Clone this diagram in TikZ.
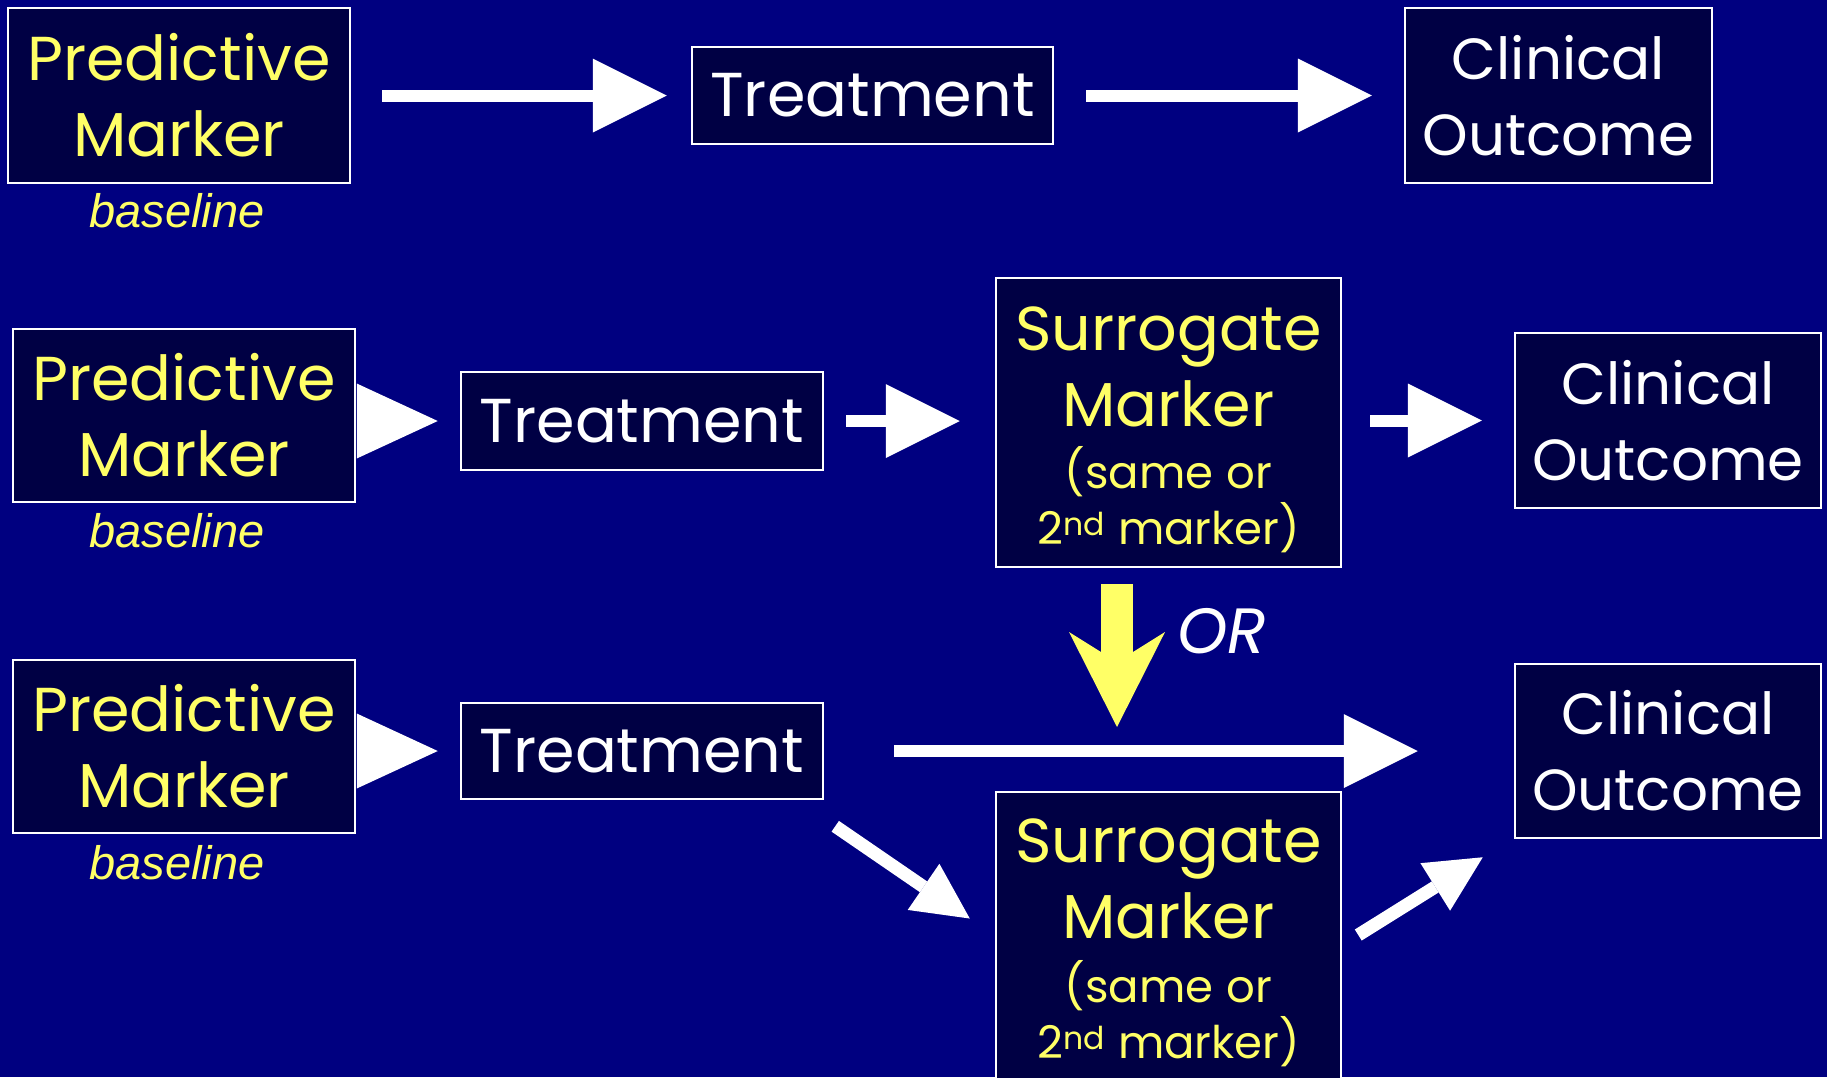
\documentclass[tikz,border=0pt]{standalone}
\usepackage{fontspec}
\setmainfont{Poppins}
\newfontfamily\arialfont{Liberation Sans}
\usetikzlibrary{arrows.meta,calc}
\definecolor{bgblue}{HTML}{000080}
\definecolor{boxblue}{HTML}{000044}
\definecolor{txtyellow}{HTML}{FFFF66}
\newcommand{\surrtext}[1]{\fontsize{62}{76}\selectfont Surrogate\\Marker\par\vspace{#1}\fontsize{45}{56}\selectfont (same\hspace{13pt}or\\2\textsuperscript{nd}\hspace{13pt}marker)\par}
\begin{document}
\begin{tikzpicture}[x=1pt,y=-1pt,
  box/.style={draw=white, line width=2.5pt, fill=boxblue, inner sep=0pt, align=center},
  ylw/.style={text=txtyellow},
  wht/.style={text=white},
  big/.style={font=\fontsize{62}{76}\selectfont},
  cobig/.style={font=\fontsize{58}{76}\selectfont},
  basetxt/.style={text=txtyellow, font=\arialfont\itshape\fontsize{47}{56}\selectfont},
  harrow/.style={draw=white, line width=12pt, -{Triangle[length=74pt,width=74pt,line width=0pt]}},
  sharrow/.style={draw=white, line width=12pt, -{Triangle[length=81pt,width=75pt,line width=0pt]}},
  darrow/.style={draw=white, line width=13pt, -{Triangle[length=56pt,width=56pt,line width=0pt]}},
  yarrow/.style={draw=txtyellow, line width=32pt, -{Stealth[length=95pt,width=96pt,inset=30pt,line width=0pt]}},
  surbox/.style={box, minimum width=345pt, minimum height=289pt},
  surtxt/.style={text=txtyellow, inner sep=0pt, align=center, text width=345pt},
]
\useasboundingbox (0,0) rectangle (1827,1077);
\clip (0,0) rectangle (1827,1077);
\fill[bgblue] (0,0) rectangle (1827,1077);

% row 1
\node[box, big, ylw, minimum width=342pt, minimum height=175pt] (pm1) at (179,95.5) {Predictive\\Marker};
\node[basetxt] (bl1) at (177,211) {baseline};
\node[box, big, wht, minimum width=361pt, minimum height=97pt] (t1) at (872.5,95.5) {Treatment};
\node[box, cobig, wht, minimum width=307pt, minimum height=175pt] (co1) at (1558.5,95.5) {Clinical\\Outcome};

% row 2
\node[box, big, ylw, minimum width=342pt, minimum height=173pt] (pm2) at (184,415.5) {Predictive\\Marker};
\node[basetxt] (bl2) at (177,531) {baseline};
\node[box, big, wht, minimum width=362pt, minimum height=98pt] (t2) at (642,421) {Treatment};
\node[surbox] (sur1) at (1168.5,422.5) {};
\node[surtxt] (sur1txt) at ([yshift=-7pt]sur1.center) {\surrtext{6pt}};
\node[box, cobig, wht, minimum width=306pt, minimum height=175pt] (co2) at (1668,420.5) {Clinical\\Outcome};

% row 3
\node[box, big, ylw, minimum width=342pt, minimum height=173pt] (pm3) at (184,746.5) {Predictive\\Marker};
\node[basetxt] (bl3) at (177,863) {baseline};
\node[box, big, wht, minimum width=362pt, minimum height=96pt] (t3) at (642,751) {Treatment};
\node[box, cobig, wht, minimum width=306pt, minimum height=174pt] (co3) at (1668,751) {Clinical\\Outcome};
\node[surbox] (sur2) at (1168.5,936.5) {};
\node[surtxt] (sur2txt) at ([yshift=-6pt]sur2.center) {\surrtext{8pt}};

% OR label
\node[text=white, font=\itshape\fontsize{64}{76}\selectfont] (or) at (1222,631) {OR};

% arrows row 1
\draw[harrow, shorten <=31pt, shorten >=24pt] (pm1.east) -- (t1.west);
\draw[harrow, shorten <=32pt, shorten >=32pt] (t1.east) -- (co1.west);

% arrows row 2
\draw[sharrow, shorten <=2pt, shorten >=22pt] (pm2.east |- t2.west) -- (t2.west);
\draw[harrow, shorten <=22pt, shorten >=35pt] (t2.east) -- (t2.east -| sur1.west);
\draw[harrow, shorten <=28pt, shorten >=32pt] (sur1.east |- co2.west) -- (co2.west);

% yellow OR arrow
\coordinate (ytop) at (1117,584);
\coordinate (yend) at (1117,727);
\draw[yarrow] (ytop) -- (yend);

% arrows row 3
\draw[sharrow, shorten <=2pt, shorten >=22pt] (pm3.east |- t3.west) -- (t3.west);
\draw[harrow, shorten <=70pt, shorten >=96pt] (t3.east) -- (co3.west);
\draw[darrow] ([shift={(11,26)}]t3.south east) -- ([shift={(-25,-18)}]sur2.west);
\draw[darrow] ([shift={(16,-1.5)}]sur2.east) -- ([shift={(-31,18)}]co3.south west);
\end{tikzpicture}
\end{document}
